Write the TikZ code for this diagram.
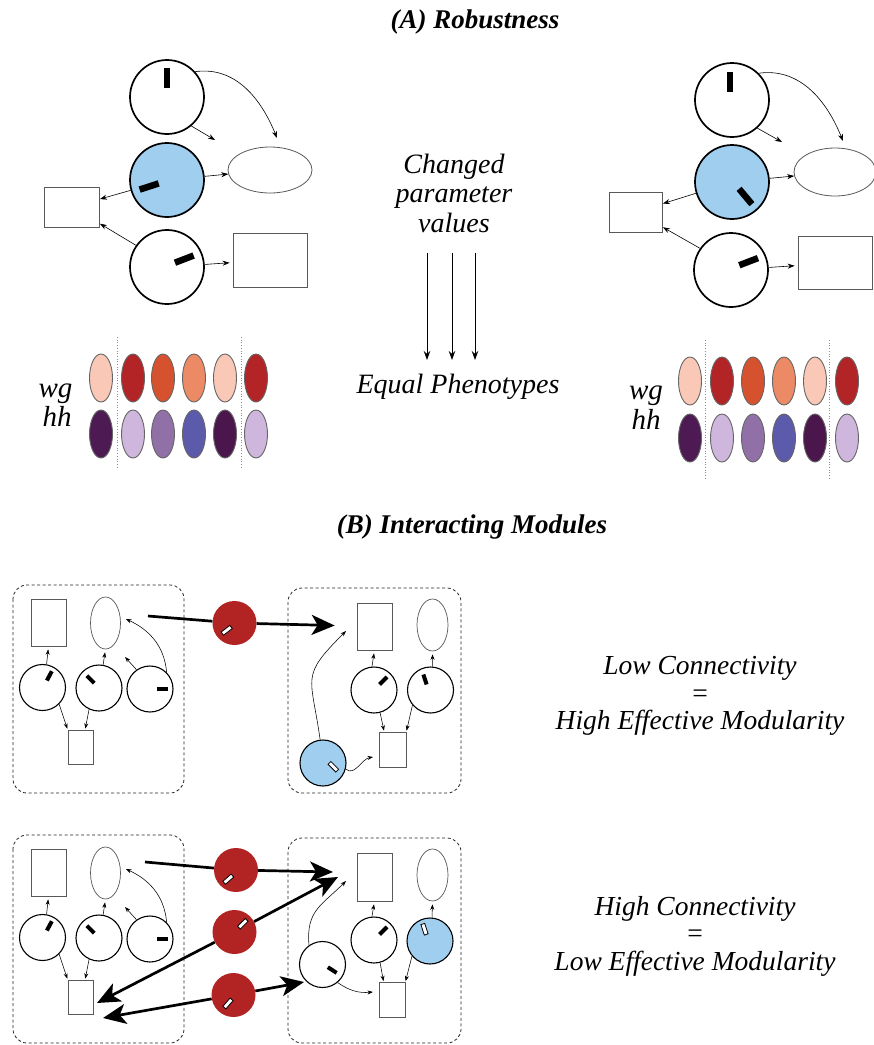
\documentclass[tikz,border=0pt]{standalone}
\usepackage{fontspec}
\setmainfont{Liberation Serif}
\usetikzlibrary{shapes.geometric,arrows.meta,calc}
\definecolor{cblue}{RGB}{160,206,238}
\definecolor{cred}{RGB}{178,36,36}
\definecolor{peach}{RGB}{250,200,182}
\definecolor{dred}{RGB}{178,36,38}
\definecolor{ored}{RGB}{214,82,46}
\definecolor{salmon}{RGB}{236,138,102}
\definecolor{dpurp}{RGB}{78,26,84}
\definecolor{lav}{RGB}{206,182,220}
\definecolor{mpurp}{RGB}{145,112,168}
\definecolor{bpurp}{RGB}{92,90,170}
\definecolor{dpurpb}{RGB}{74,22,76}
\newcommand\gbar[6]{\node[#6, rotate=#5] (#1) at ($(#2)+(#3:#4pt)$) {};}
\newcommand\leftmodule[2]{%
 \draw[modbox] (13,585+#2) rectangle (184,793+#2);
 \node[smbox, minimum width=35pt, minimum height=47pt] (#1r1) at (48.5,622.5+#2) {};
 \node[smoval] (#1ov) at (105.5,623+#2) {};
 \node[smc] (#1ca) at (42.5,687.5+#2) {};
 \node[smc] (#1cb) at (99,688+#2) {};
 \node[smc] (#1cc) at (150,689+#2) {};
 \node[smbox, minimum width=25pt, minimum height=34pt] (#1r2) at (80.5,747+#2) {};
 \gbar{#1ha}{#1ca}{59.5}{13.5}{62}{smbar}
 \gbar{#1hb}{#1cb}{134.5}{12}{135}{smbar}
 \gbar{#1hc}{#1cc}{-1}{12.5}{0}{smbar}
 \draw[sa, shorten >=3pt] (#1ca.80) -- (#1r1.south);
 \draw[sa, shorten >=3pt] (#1cb.80) -- (#1ov.south);
 \coordinate (#1t) at (125,657+#2);
 \draw[sa] (#1cc.125) -- (#1t);
 \coordinate (#1u) at (126,619+#2);
 \draw[sa] (#1cc.45) to[out=95,in=-25] (#1u);
 \draw[sa, shorten >=1pt] (#1ca.-45) -- (#1r2.north west);
 \draw[sa, shorten >=1pt] (#1cb.-115) -- (#1r2.75);
}
\begin{document}
\begin{tikzpicture}[x=1pt,y=-1pt,
  bigc/.style={circle, draw=black, line width=1.7pt, minimum size=74pt, inner sep=0pt},
  bigoval/.style={ellipse, draw=black!65, line width=0.8pt, inner sep=0pt},
  bigbox/.style={rectangle, draw=black!65, line width=0.8pt, inner sep=0pt},
  ta/.style={-{Stealth[length=7pt,width=5pt]}, line width=0.6pt},
  sa/.style={-{Stealth[length=5.5pt,width=4pt]}, line width=0.55pt},
  bigbar/.style={rectangle, fill=black, inner sep=0pt, minimum width=20pt, minimum height=6.5pt},
  smbar/.style={rectangle, fill=black, inner sep=0pt, minimum width=10.5pt, minimum height=4pt},
  holbar/.style={rectangle, draw=black, fill=white, line width=0.8pt, inner sep=0pt, minimum width=11pt, minimum height=4pt},
  smc/.style={circle, draw=black, line width=1.1pt, minimum size=46pt, inner sep=0pt},
  smoval/.style={ellipse, draw=black!65, line width=0.7pt, inner sep=0pt, minimum width=30pt, minimum height=52pt},
  smbox/.style={rectangle, draw=black!65, line width=0.7pt, inner sep=0pt},
  redc/.style={circle, fill=cred, minimum size=44pt, inner sep=0pt},
  modbox/.style={draw=black!85, dash pattern=on 3pt off 2.5pt, line width=0.8pt, rounded corners=14pt},
  thk/.style={line width=2.7pt},
  thka/.style={line width=2.7pt, -{Stealth[length=23pt,width=20pt,inset=6pt]}},
  midarr/.style={line width=1pt, -{Stealth[length=9pt,width=6.5pt]}},
  pheno/.style={ellipse, draw=black!60, line width=0.9pt, minimum width=23pt, minimum height=48pt, inner sep=0pt},
  dotsep/.style={draw=black!45, dotted, line width=0.7pt},
  lbl/.style={font=\fontsize{28}{29.5}\selectfont\itshape, align=center, inner sep=0pt},
  lblb/.style={font=\fontsize{27.5}{27.5}\selectfont\itshape, align=center, inner sep=0pt},
  gl/.style={font=\fontsize{29}{29}\selectfont\itshape, inner sep=0pt, anchor=base},
  ttl/.style={font=\fontsize{27}{29}\selectfont\bfseries\itshape, inner sep=0pt},
]
\useasboundingbox (0,0) rectangle (874,1045);
\fill[white] (0,0) rectangle (874,1045);

% ---------------- (A) ----------------
\node[ttl] (titleA) at (475,22) {(A) Robustness};

% left network
\node[bigc] (c1) at (167,97) {};
\node[bigc, fill=cblue] (b1) at (167,180) {};
\node[bigc] (c3) at (167,267) {};
\node[bigoval, minimum width=84pt, minimum height=46pt] (e1) at (270,170) {};
\node[bigbox, minimum width=55pt, minimum height=40pt] (rl) at (72,207) {};
\node[bigbox, minimum width=74pt, minimum height=54pt] (rr) at (270,260) {};
\gbar{c1h}{c1}{90}{19}{90}{bigbar}
\gbar{b1h}{b1}{200}{19}{198}{bigbar}
\gbar{c3h}{c3}{24.5}{19}{21}{bigbar}
\coordinate (t1) at (215,140);
\draw[ta] (c1.-50) -- (t1);
\coordinate (t2) at (277,138);
\draw[ta] (c1.42) to[out=8,in=112] (t2);
\draw[ta] (b1) -- (e1);
\draw[ta] (b1) -- (rl);
\draw[ta] (c3.145) -- (rl);
\draw[ta, shorten >=3pt] (c3) -- (rr);

% right network
\node[bigc] (c1r) at (732,100) {};
\node[bigc, fill=cblue] (b1r) at (732,182) {};
\node[bigc] (c3r) at (731,270) {};
\node[bigoval, minimum width=82pt, minimum height=48pt] (e1r) at (835,172) {};
\node[bigbox, minimum width=53pt, minimum height=40pt] (rlr) at (636,212) {};
\node[bigbox, minimum width=74pt, minimum height=53pt] (rrr) at (835,263) {};
\gbar{c1rh}{c1r}{96}{18.5}{90}{bigbar}
\gbar{b1rh}{b1r}{-47}{19.8}{-50}{bigbar}
\gbar{c3rh}{c3r}{25.3}{19.5}{21}{bigbar}
\coordinate (u1) at (782,142);
\draw[ta] (c1r.-48) -- (u1);
\coordinate (u2) at (843,141);
\draw[ta] (c1r.45) to[out=8,in=112] (u2);
\draw[ta] (b1r) -- (e1r);
\draw[ta] (b1r) -- (rlr);
\draw[ta] (c3r.145) -- (rlr);
\draw[ta, shorten >=3pt] (c3r) -- (rrr);

% middle
\node[lbl] (chg) at (454,193) {Changed\\parameter\\values};
\coordinate (m1s) at (427,253); \coordinate (m1e) at (427,360);
\coordinate (m2s) at (452,253); \coordinate (m2e) at (452,360);
\coordinate (m3s) at (475,253); \coordinate (m3e) at (475,360);
\draw[midarr] (m1s) -- (m1e);
\draw[midarr] (m2s) -- (m2e);
\draw[midarr] (m3s) -- (m3e);
\node[lbl] (eqp) at (458,387) {Equal Phenotypes};

% phenotypes left
\foreach \x/\c [count=\i] in {101/peach,133/dred,163/ored,194/salmon,225/peach,256/dred}
  \node[pheno, fill=\c] (wgL\i) at (\x,378) {};
\foreach \x/\c [count=\i] in {101/dpurp,133/lav,163/mpurp,194/bpurp,225/dpurpb,256/lav}
  \node[pheno, fill=\c] (hhL\i) at (\x,434) {};
\draw[dotsep] (117,337) -- (117,467);
\draw[dotsep] (241,337) -- (241,467);
\node[gl] (wgL) at (55.5,397) {wg};
\node[gl] (hhL) at (57,426) {hh};

% phenotypes right
\foreach \x/\c [count=\i] in {690/peach,722/dred,753/ored,784/salmon,815/peach,847/dred}
  \node[pheno, fill=\c] (wgR\i) at (\x,381) {};
\foreach \x/\c [count=\i] in {690/dpurp,722/lav,753/mpurp,784/bpurp,815/dpurpb,847/lav}
  \node[pheno, fill=\c] (hhR\i) at (\x,438) {};
\draw[dotsep] (705,340) -- (705,478);
\draw[dotsep] (829,340) -- (829,478);
\node[gl] (wgR) at (646,399) {wg};
\node[gl] (hhR) at (646,429) {hh};

% ---------------- (B) ----------------
\node[ttl] (titleB) at (472,527) {(B) Interacting Modules};

% top row
\leftmodule{A}{0}
\node[redc] (rdA) at (234.5,623) {};
\gbar{rdAh}{rdA}{223}{10.7}{217}{holbar}
\coordinate (sA) at (148,616);
\draw[thk] (sA) -- (rdA);

\draw[modbox] (288,588) rectangle (461,793);
\node[smbox, minimum width=35pt, minimum height=47pt] (Rr1) at (374.5,626.5) {};
\node[smoval, minimum width=31pt] (Rov) at (432.5,625) {};
\node[smc] (Rd) at (374,690) {};
\node[smc] (Re) at (430.5,690) {};
\node[smbox, minimum width=27pt, minimum height=35pt] (Rr2) at (392.5,749.5) {};
\node[smc, fill=cblue] (Rbl) at (323,763) {};
\gbar{Rdh}{Rd}{45}{13.2}{45}{smbar}
\gbar{Reh}{Re}{117.6}{11.9}{108}{smbar}
\gbar{Rblh}{Rbl}{-20}{11}{-45}{holbar}
\draw[thka, shorten >=22pt] (rdA) -- (Rr1);
\draw[sa, shorten >=3pt] (Rd.95) -- (Rr1.south);
\draw[sa, shorten >=3pt] (Re.85) -- (Rov.south);
\draw[sa, shorten >=1pt] (Rd.-75) -- (Rr2.115);
\draw[sa, shorten >=1pt] (Re.-140) -- (Rr2.north east);
\coordinate (Rt1) at (346,631);
\draw[sa] (Rbl.97) to[out=98,in=-135,looseness=1.5] (Rt1);
\coordinate (Rt2) at (373,757);
\draw[sa] (Rbl.-15) to[out=-40,in=190] (Rt2);

\node[lblb] (lowc) at (700,696) {Low Connectivity\\=\\High Effective Modularity};

% bottom row
\leftmodule{B}{250}
\node[redc] (rdB1) at (236,870) {};
\node[redc] (rdB2) at (234.5,932) {};
\node[redc] (rdB3) at (233.5,995) {};
\gbar{rdB1h}{rdB1}{230}{12}{221}{holbar}
\gbar{rdB2h}{rdB2}{45}{11.7}{45}{holbar}
\gbar{rdB3h}{rdB3}{237}{10.1}{229}{holbar}

\draw[modbox] (288,838) rectangle (461,1043);
\node[smbox, minimum width=35pt, minimum height=48pt] (Sr1) at (374.5,877) {};
\node[smoval, minimum width=31pt] (Sov) at (432.5,875) {};
\node[smc] (Sd) at (374,940) {};
\node[smc, fill=cblue] (Se) at (430,941) {};
\node[smc] (Sf) at (322.5,964.5) {};
\node[smbox, minimum width=26pt, minimum height=35pt] (Sr2) at (392,1000) {};
\gbar{Sdh}{Sd}{45}{13.2}{45}{smbar}
\gbar{Seh}{Se}{115}{13}{108}{holbar}
\gbar{Sfh}{Sf}{-29.6}{11.2}{-33}{smbar}
\draw[sa, shorten >=3pt] (Sd.95) -- (Sr1.south);
\draw[sa, shorten >=3pt] (Se.85) -- (Sov.south);
\draw[sa, shorten >=1pt] (Sd.-75) -- (Sr2.115);
\draw[sa, shorten >=1pt] (Se.-140) -- (Sr2.north east);
\coordinate (St1) at (346,881);
\draw[sa] (Sf.125) to[out=95,in=-135,looseness=1.2] (St1);
\coordinate (St2) at (373,992);
\draw[sa] (Sf.-50) to[out=-35,in=185] (St2);

\coordinate (sB) at (145,862);
\draw[thk] (sB) -- (rdB1);
\coordinate (tB1) at (333,872);
\draw[thka] (rdB1) -- (tB1);
\coordinate (tB2) at (338,877);
\draw[thka] (rdB2) -- (tB2);
\coordinate (tB3) at (97,1003);
\draw[thka] (rdB2) -- (tB3);
\coordinate (tB4) at (103,1018);
\draw[thka] (rdB3) -- (tB4);
\coordinate (tB5) at (304,982);
\draw[thka] (rdB3) -- (tB5);

\node[lblb] (highc) at (695,936) {High Connectivity\\=\\Low Effective Modularity};
\end{tikzpicture}
\end{document}
